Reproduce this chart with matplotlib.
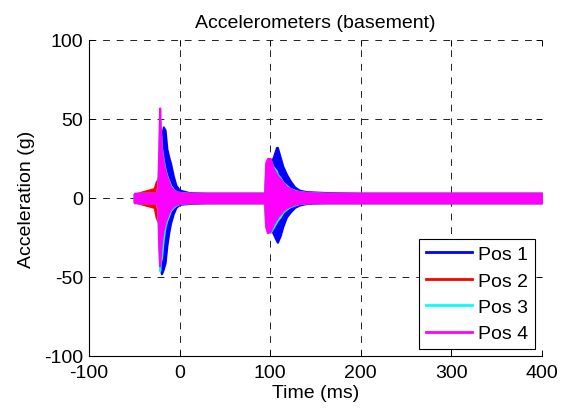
import matplotlib
matplotlib.use("Agg")
import matplotlib.pyplot as plt

# Envelope of each accelerometer trace (ms, g)
t = [-50, -28, -26, -24, -23, -22, -21, -20, -18, -16, -14, -12, -10, -7, -4, 0,
     10, 30, 60, 94, 95, 97, 100, 103, 107, 108, 111, 114, 118, 122, 127, 132,
     140, 160, 200, 400]

pos1_hi = [2.5, 3, 8, 12, 13, 20, 30, 38, 45, 43, 31, 26, 22, 14, 8, 5,
           3.5, 3, 3, 3, 10, 18, 24, 25, 32, 32, 26, 20, 15, 11, 7, 5,
           4, 3.5, 3, 3]
pos1_lo = [-2.5, -3, -8, -12, -14, -38, -45, -48, -45, -41, -30, -22, -16, -10, -6, -4,
           -3.5, -3, -3, -3, -10, -16, -20, -22, -27, -28, -24, -18, -12, -9, -6, -4.5,
           -3.5, -3, -3, -3]
pos2_hi = [2.5, 6, 10, 12, 14, 35, 30, 25, 18, 14, 11, 9, 7, 5, 4, 3,
           3, 3, 3, 3, 15, 20, 22, 18, 14, 13, 12, 10, 7, 5.5, 4.5, 3.5,
           3, 3, 3, 3]
pos2_lo = [-2.5, -6, -12, -15, -15, -35, -30, -24, -18, -14, -11, -9, -7, -5, -4, -3,
           -3, -3, -3, -3, -15, -19, -20, -17, -14, -13, -11, -9, -7, -5, -4, -3.5,
           -3, -3, -3, -3]
pos3_hi = [3, 3, 3, 7, 28, 50, 42, 32, 24, 18, 14, 11, 8, 5.5, 4, 3.5,
           3, 3, 3, 3, 20, 23, 24, 20, 17, 15, 13, 10, 8, 6, 5, 4,
           3.5, 3, 3, 3]
pos3_lo = [-3, -3, -3, -7, -32, -46, -40, -38, -26, -18, -14, -11, -8, -6, -4.5, -3.5,
           -3, -3, -3, -3, -17, -21, -22, -19, -15, -14, -12, -9, -7, -5.5, -4.5, -3.5,
           -3, -3, -3, -3]
pos4_hi = [3, 3, 3, 6, 30, 57, 40, 30, 22, 17, 13, 10, 7, 5, 4, 3.5,
           3, 3, 3, 3, 22, 25, 25, 19, 15, 14, 12, 10, 7, 6, 4.5, 4,
           3.5, 3, 3, 3]
pos4_lo = [-3, -3, -3, -6, -30, -43, -35, -27, -20, -15, -12, -9, -7, -5, -4, -3.5,
           -3, -3, -3, -3, -18, -22, -21, -17, -13, -12, -10, -8, -6, -5, -4, -3.5,
           -3, -3, -3, -3]

labels = ["Pos 1", "Pos 2", "Pos 3", "Pos 4"]
colors = ["#0000ff", "#ff0000", "#00ffff", "#ff00ff"]

plt.rcParams["font.family"] = ["Liberation Sans", "DejaVu Sans"]
plt.rcParams["axes.unicode_minus"] = False

fig = plt.figure(figsize=(5.68, 4.14), dpi=100)
ax = fig.add_axes([0.1567, 0.1377, 0.7973, 0.7633])

series = [(pos1_hi, pos1_lo), (pos2_hi, pos2_lo), (pos3_hi, pos3_lo), (pos4_hi, pos4_lo)]
for (hi, lo), c, lab in zip(series, colors, labels):
    ax.fill_between(t, lo, hi, facecolor=c, edgecolor=c, linewidth=1.5, zorder=2)
    ax.plot([], [], color=c, linewidth=2, label=lab)

ax.set_xlim(-100, 400)
ax.set_ylim(-100, 100)
ax.set_xticks([-100, 0, 100, 200, 300, 400])
ax.set_yticks([-100, -50, 0, 50, 100])
ax.grid(True, color="#222222", linestyle=(0, (7, 7)), linewidth=0.7)
ax.tick_params(direction="in", top=True, right=True, labelsize=14, length=4,
               width=0.7)
ax.tick_params(axis="x", pad=6)
ax.tick_params(axis="y", pad=4)
ax.spines["top"].set_visible(False)
ax.spines["right"].set_visible(False)
for s in ("left", "bottom"):
    ax.spines[s].set_linewidth(0.8)

ax.set_title("Accelerometers (basement)", fontsize=14, pad=9)
ax.set_xlabel("Time (ms)", fontsize=14, labelpad=2)
ax.set_ylabel("Acceleration (g)", fontsize=14, labelpad=7)

leg = ax.legend(loc="lower right", fontsize=14, fancybox=False, framealpha=1,
                edgecolor="black", handlelength=2.4, borderaxespad=0.35,
                labelspacing=0.45, handletextpad=0.3, borderpad=0.35)
leg.get_frame().set_linewidth(0.8)

fig.savefig("out.png", dpi=100)
